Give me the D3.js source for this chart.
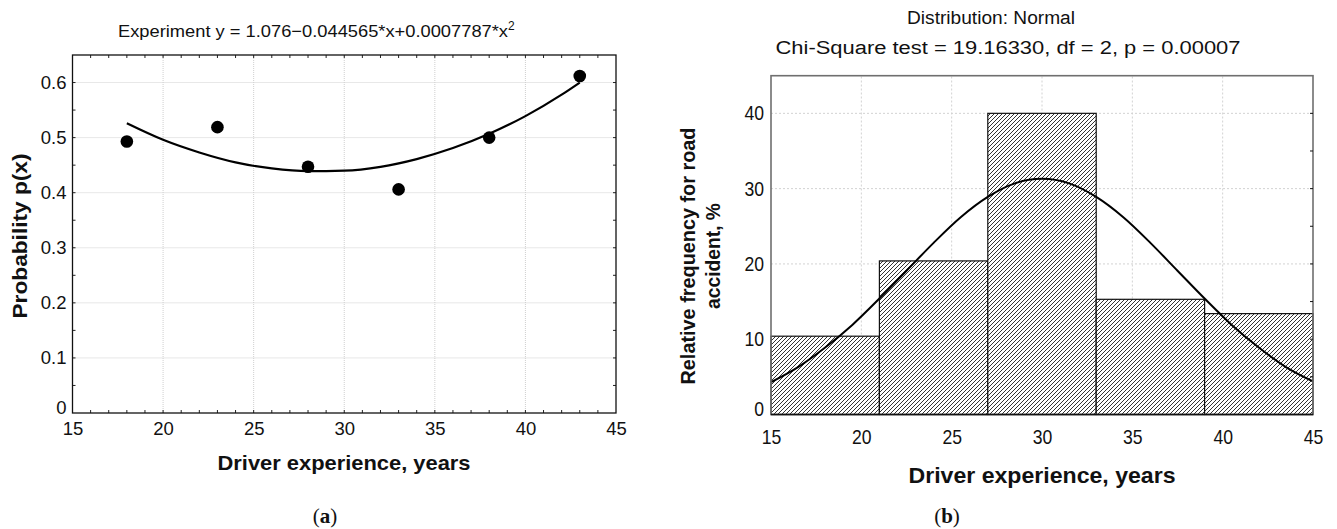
<!DOCTYPE html>
<html>
<head>
<meta charset="utf-8">
<script src="https://cdn.jsdelivr.net/npm/d3@7"></script>
<style>
  html, body { margin: 0; padding: 0; background: #fff; }
  svg { display: block; }
  text { font-family: "Liberation Sans", Arial, sans-serif; }
  text.serif { font-family: "Liberation Serif", "DejaVu Serif", serif; }
</style>
</head>
<body>
<svg id="chart" width="1337" height="529"></svg>
<script>
// ---------- Data: panel (a) ----------
const expX = [18, 23, 28, 33, 38, 43];
const expP = [0.493, 0.519, 0.447, 0.406, 0.500, 0.612];
// fitted curve
const fitX = [18, 20, 22, 24, 26, 28, 30, 32, 34, 36, 38, 40, 42, 43];
const fitY = [0.526, 0.496, 0.473, 0.455, 0.444, 0.439, 0.440, 0.447, 0.461, 0.481, 0.507, 0.539, 0.578, 0.600];
const aXTicks = [15, 20, 25, 30, 35, 40, 45];
const aYTicks = [0, 0.1, 0.2, 0.3, 0.4, 0.5, 0.6];

// ---------- Data: panel (b) ----------
const binStart = [15, 21, 27, 33, 39];
const binEnd   = [21, 27, 33, 39, 45];
const binFreq  = [10.4, 20.4, 40.0, 15.3, 13.4];
const normX = [15, 16.5, 18, 19.5, 21, 22.5, 24, 25.5, 27, 28.5, 30, 31.5, 33, 34.5, 36, 37.5, 39, 40.5, 42, 43.5, 45];
const normY = [4.3, 6.3, 8.9, 11.9, 15.4, 19.1, 22.8, 26.2, 28.9, 30.7, 31.3, 30.7, 28.9, 26.2, 22.8, 19.1, 15.4, 11.9, 8.9, 6.3, 4.4];
const bXTicks = [15, 20, 25, 30, 35, 40, 45];
const bYTicks = [0, 10, 20, 30, 40];

const svg = d3.select("#chart");

// hatch pattern
const defs = svg.append("defs");
const pat = defs.append("pattern").attr("id", "hatch")
  .attr("patternUnits", "userSpaceOnUse").attr("width", 4).attr("height", 4);
pat.append("rect").attr("width", 4).attr("height", 4).attr("fill", "#fff");
pat.append("path").attr("d", "M-1,1 l2,-2 M0,4 l4,-4 M3,5 l2,-2")
  .attr("stroke", "#333").attr("stroke-width", 1);

function fitText(sel, len) {
  sel.attr("textLength", len).attr("lengthAdjust", "spacingAndGlyphs");
}

// ================= Panel (a) =================
(function () {
  const x = d3.scaleLinear().domain([15, 45]).range([72.5, 616]);
  const y = d3.scaleLinear().domain([0, 0.65]).range([413, 55]);
  const g = svg.append("g");

  // grid
  g.append("g").selectAll("line").data(aXTicks.slice(1, -1)).join("line")
    .attr("x1", d => x(d)).attr("x2", d => x(d)).attr("y1", y(0)).attr("y2", y(0.65))
    .attr("stroke", "#cfcfcf").attr("stroke-dasharray", "1,1");
  g.append("g").selectAll("line").data(aYTicks.slice(1)).join("line")
    .attr("y1", d => y(d)).attr("y2", d => y(d)).attr("x1", x(15)).attr("x2", x(45))
    .attr("stroke", "#cfcfcf").attr("stroke-dasharray", "1,1");

  // axes
  const bottom = d3.axisBottom(x).tickValues(aXTicks).tickSize(0).tickPadding(9).tickFormat(d3.format("d"));
  const gb = g.append("g").attr("transform", `translate(0,${y(0)})`).call(bottom);
  gb.attr("font-family", null).attr("font-size", null);
  gb.select(".domain").remove();
  gb.selectAll("text").attr("font-size", 18.5).attr("fill", "#111");

  const left = d3.axisLeft(y).tickValues(aYTicks).tickSize(0).tickPadding(6)
    .tickFormat(d => d === 0 ? "0" : d3.format(".1f")(d));
  const gl = g.append("g").attr("transform", `translate(${x(15)},0)`).call(left);
  gl.attr("font-family", null).attr("font-size", null);
  gl.select(".domain").remove();
  gl.selectAll("text").attr("font-size", 18.5).attr("fill", "#111");
  gl.selectAll(".tick").filter(d => d === 0).select("text").attr("dy", "0.05em");

  // minor ticks inside on all sides
  const xMinor = d3.range(16, 45, 1);
  const yMinor = d3.range(0.05, 0.65, 0.05);
  const tk = g.append("g").attr("stroke", "#222").attr("stroke-width", 1);
  tk.selectAll(".xb").data(xMinor).join("line")
    .attr("x1", d => x(d)).attr("x2", d => x(d)).attr("y1", y(0)).attr("y2", y(0) - 3);
  tk.selectAll(".xt").data(xMinor).join("line")
    .attr("x1", d => x(d)).attr("x2", d => x(d)).attr("y1", y(0.65)).attr("y2", y(0.65) + 3);
  tk.selectAll(".yl").data(yMinor).join("line")
    .attr("y1", d => y(d)).attr("y2", d => y(d)).attr("x1", x(15)).attr("x2", x(15) + 3);
  tk.selectAll(".yr").data(yMinor).join("line")
    .attr("y1", d => y(d)).attr("y2", d => y(d)).attr("x1", x(45)).attr("x2", x(45) - 3);

  // frame
  g.append("rect").attr("x", x(15)).attr("y", y(0.65)).attr("width", x(45) - x(15)).attr("height", y(0) - y(0.65))
    .attr("fill", "none").attr("stroke", "#111").attr("stroke-width", 1.3);

  // fit curve
  const line = d3.line().x(d => x(d[0])).y(d => y(d[1])).curve(d3.curveMonotoneX);
  g.append("path").datum(fitX.map((v, i) => [v, fitY[i]])).attr("d", line)
    .attr("fill", "none").attr("stroke", "#000").attr("stroke-width", 2.2);

  // points
  g.append("g").selectAll("circle").data(expX.map((v, i) => [v, expP[i]])).join("circle")
    .attr("cx", d => x(d[0])).attr("cy", d => y(d[1])).attr("r", 6.3).attr("fill", "#000");

  // title
  const t = g.append("text").attr("x", 118).attr("y", 37)
    .attr("font-size", 17).attr("fill", "#111");
  const t1 = t.append("tspan").text("Experiment y = 1.076\u22120.044565*x+0.0007787*x");
  fitText(t1, 390);
  t.append("tspan").attr("dy", -7).attr("font-size", 12).text("2");

  // axis titles
  fitText(g.append("text").attr("x", 344).attr("y", 470).attr("text-anchor", "middle")
    .attr("font-size", 21).attr("font-weight", "bold").attr("fill", "#111")
    .text("Driver experience, years"), 253);
  fitText(g.append("text").attr("transform", "translate(27,236) rotate(-90)").attr("text-anchor", "middle")
    .attr("font-size", 21).attr("font-weight", "bold").attr("fill", "#111")
    .text("Probability p(x)"), 165);

  const la = svg.append("text").attr("class", "serif").attr("x", 325).attr("y", 523).attr("text-anchor", "middle")
    .attr("font-size", 21).attr("fill", "#111");
  la.append("tspan").text("(");
  la.append("tspan").attr("font-weight", "bold").text("a");
  la.append("tspan").text(")");
})();

// ================= Panel (b) =================
(function () {
  const x = d3.scaleLinear().domain([15, 45]).range([771, 1313]);
  const y = d3.scaleLinear().domain([0, 45]).range([414.5, 75.7]);
  const g = svg.append("g");

  // grid
  g.append("g").selectAll("line").data(bXTicks.slice(1, -1)).join("line")
    .attr("x1", d => x(d)).attr("x2", d => x(d)).attr("y1", y(0)).attr("y2", y(45))
    .attr("stroke", "#d2d2d2").attr("stroke-dasharray", "2,2");
  g.append("g").selectAll("line").data(bYTicks.slice(1)).join("line")
    .attr("y1", d => y(d)).attr("y2", d => y(d)).attr("x1", x(15)).attr("x2", x(45))
    .attr("stroke", "#d2d2d2").attr("stroke-dasharray", "2,2");

  // bars
  g.append("g").selectAll("rect").data(binFreq).join("rect")
    .attr("x", (d, i) => x(binStart[i])).attr("width", (d, i) => x(binEnd[i]) - x(binStart[i]))
    .attr("y", d => y(d)).attr("height", d => y(0) - y(d))
    .attr("fill", "url(#hatch)").attr("stroke", "#111").attr("stroke-width", 1.2);

  // normal curve
  const line = d3.line().x(d => x(d[0])).y(d => y(d[1])).curve(d3.curveMonotoneX);
  g.append("path").datum(normX.map((v, i) => [v, normY[i]])).attr("d", line)
    .attr("fill", "none").attr("stroke", "#000").attr("stroke-width", 2);

  // frame
  g.append("rect").attr("x", x(15)).attr("y", y(45)).attr("width", x(45) - x(15)).attr("height", y(0) - y(45))
    .attr("fill", "none").attr("stroke", "#6f6f6f").attr("stroke-width", 1.6);
  g.append("line").attr("x1", x(15)).attr("x2", x(45)).attr("y1", y(0)).attr("y2", y(0))
    .attr("stroke", "#111").attr("stroke-width", 1.6);

  // right side inward ticks
  g.append("g").selectAll("line").data(d3.range(5, 45, 5)).join("line")
    .attr("y1", d => y(d)).attr("y2", d => y(d)).attr("x1", x(45)).attr("x2", x(45) - 3)
    .attr("stroke", "#111");

  // axes (narrow-looking digits)
  const bottom = d3.axisBottom(x).tickValues(bXTicks).tickSize(0).tickPadding(15).tickFormat(d3.format("d"));
  const gb = g.append("g").attr("transform", `translate(0,${y(0)})`).call(bottom);
  gb.attr("font-family", null).attr("font-size", null);
  gb.select(".domain").remove();
  gb.selectAll("text").attr("font-size", 20).attr("fill", "#111").attr("transform", "scale(0.88,1)");

  const left = d3.axisLeft(y).tickValues(bYTicks).tickSize(0).tickPadding(8).tickFormat(d3.format("d"));
  const gl = g.append("g").attr("transform", `translate(${x(15)},0)`).call(left);
  gl.attr("font-family", null).attr("font-size", null);
  gl.select(".domain").remove();
  gl.selectAll("text").attr("font-size", 20).attr("fill", "#111").attr("transform", "scale(0.88,1)");
  gl.selectAll(".tick").filter(d => d === 0).select("text").attr("dy", "0.05em");

  // titles
  fitText(g.append("text").attr("x", 991).attr("y", 24).attr("text-anchor", "middle")
    .attr("font-size", 18).attr("fill", "#111").text("Distribution: Normal"), 168);
  fitText(g.append("text").attr("x", 1008).attr("y", 54).attr("text-anchor", "middle")
    .attr("font-size", 18).attr("fill", "#111").text("Chi-Square test = 19.16330, df = 2, p = 0.00007"), 465);

  fitText(g.append("text").attr("x", 1042).attr("y", 483).attr("text-anchor", "middle")
    .attr("font-size", 22).attr("font-weight", "bold").attr("fill", "#111")
    .text("Driver experience, years"), 267);

  const yt = g.append("g").attr("transform", "translate(701,256) rotate(-90)");
  fitText(yt.append("text").attr("x", 0).attr("y", -6).attr("text-anchor", "middle")
    .attr("font-size", 20).attr("font-weight", "bold").attr("fill", "#111").text("Relative frequency for road"), 257);
  fitText(yt.append("text").attr("x", 0).attr("y", 19).attr("text-anchor", "middle")
    .attr("font-size", 20).attr("font-weight", "bold").attr("fill", "#111").text("accident, %"), 106);

  const lb = svg.append("text").attr("class", "serif").attr("x", 947).attr("y", 523).attr("text-anchor", "middle")
    .attr("font-size", 21).attr("fill", "#111");
  lb.append("tspan").text("(");
  lb.append("tspan").attr("font-weight", "bold").text("b");
  lb.append("tspan").text(")");
})();
</script>
</body>
</html>
